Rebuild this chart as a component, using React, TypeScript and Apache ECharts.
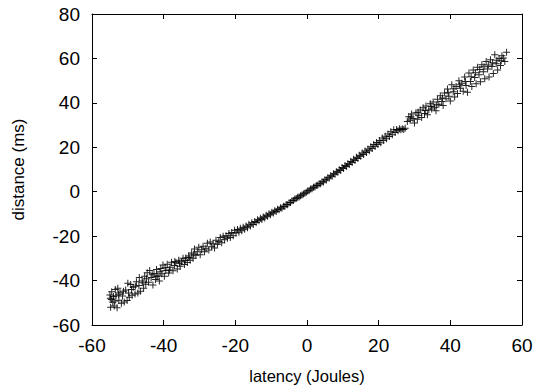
import React, { useEffect, useRef } from "react";
import * as echarts from "echarts";

const xTicks = { min: -60, max: 60, interval: 20 };
const yTicks = { min: -60, max: 80, interval: 20 };
const xTitle = "latency (Joules)";
const yTitle = "distance (ms)";

const segA: [number, number][] = [
  [-55.0, -46.5], [-54.8, -52.0], [-54.6, -48.5], [-54.5, -45.0], [-54.2, -49.8], [-54.0, -47.2],
  [-53.8, -51.5], [-53.5, -44.0], [-53.3, -46.8], [-53.0, -52.2], [-52.8, -43.5], [-52.5, -48.9],
  [-52.2, -45.5], [-51.8, -50.2], [-51.5, -47.0], [-51.0, -49.6], [-50.6, -44.2], [-50.2, -49.0],
  [-50.0, -41.2], [-49.6, -47.5], [-49.2, -41.8], [-48.8, -46.6], [-48.5, -43.0], [-48.0, -46.0],
  [-47.6, -40.5], [-47.2, -45.6], [-46.8, -38.6], [-46.5, -44.8], [-46.0, -40.2], [-45.6, -43.5],
  [-45.3, -38.0], [-45.0, -41.6],
];
const segA2: [number, number][] = [
  [-54.9, -48.0], [-53.6, -49.2], [-52.6, -46.2], [-51.2, -44.8], [-49.8, -45.6], [-49.0, -44.0],
  [-47.9, -42.6], [-46.9, -42.2], [-45.8, -41.0], [-44.8, -39.2],
];
const segB: [number, number][] = [
  [-44.6, -36.5], [-44.2, -40.8], [-43.9, -35.5], [-43.5, -38.6], [-43.0, -42.0], [-42.7, -36.8],
  [-42.3, -39.5], [-42.0, -35.0], [-41.6, -37.8], [-41.2, -40.2], [-40.8, -34.6], [-40.5, -36.9],
  [-40.2, -33.0], [-39.8, -38.0], [-39.4, -35.5], [-39.0, -32.6], [-38.6, -36.6], [-38.2, -34.0],
  [-37.8, -31.8], [-37.4, -35.6], [-37.0, -33.2], [-36.6, -32.0], [-36.2, -34.8], [-35.8, -30.9],
  [-35.4, -33.5], [-35.0, -31.5], [-34.6, -30.0], [-34.2, -32.8], [-33.8, -29.8], [-33.4, -31.9],
  [-33.0, -28.9], [-32.6, -30.8], [-32.2, -27.6], [-31.8, -29.9], [-31.4, -25.8], [-31.0, -28.6],
  [-30.6, -27.0], [-30.2, -25.0],
];
const segB2: [number, number][] = [
  [-43.2, -37.4], [-41.9, -38.2], [-41.0, -36.0], [-39.6, -34.2], [-38.4, -35.2], [-36.9, -31.4],
  [-35.6, -32.2], [-34.0, -31.0], [-32.9, -29.6], [-31.6, -28.2],
];
const segC: [number, number][] = [
  [-29.8, -28.4], [-29.4, -26.1], [-29.0, -24.6], [-28.6, -27.0], [-28.2, -25.4], [-27.8, -23.2],
  [-27.4, -26.2], [-27.0, -22.6], [-26.6, -24.8], [-26.2, -23.4], [-25.8, -25.3], [-25.4, -21.8],
  [-25.0, -23.6], [-24.6, -22.4], [-24.2, -20.6], [-23.8, -23.0], [-23.4, -20.0], [-23.0, -21.6],
  [-22.6, -19.8], [-22.2, -21.0], [-21.8, -18.8], [-21.4, -20.6], [-21.0, -18.4], [-20.6, -19.8],
  [-20.2, -17.4], [-19.8, -18.6], [-19.4, -17.0], [-19.0, -18.2], [-18.6, -16.5], [-18.2, -17.6],
  [-17.8, -16.0], [-17.4, -16.9], [-17.0, -15.4], [-16.6, -16.2], [-16.2, -14.6], [-15.8, -15.4],
  [-15.4, -14.0], [-15.0, -14.8],
];
const segD: [number, number][] = [
  [-14.6, -13.4], [-14.2, -13.9], [-13.8, -12.6], [-13.4, -13.1], [-13.0, -12.0], [-12.6, -12.5],
  [-12.2, -11.4], [-11.8, -11.8], [-11.4, -10.6], [-11.0, -11.0], [-10.6, -9.9], [-10.2, -10.4],
  [-9.8, -9.3], [-9.4, -9.6], [-9.0, -8.6], [-8.6, -8.9], [-8.2, -7.9], [-7.8, -8.1],
  [-7.4, -7.2], [-7.0, -7.4], [-6.6, -6.5], [-6.2, -6.7], [-5.8, -5.8], [-5.4, -5.9],
  [-5.0, -5.0], [-4.6, -4.8], [-4.2, -4.1], [-3.8, -3.9], [-3.4, -3.3], [-3.0, -3.1],
  [-2.6, -2.5], [-2.2, -2.4], [-1.8, -1.8], [-1.4, -1.5], [-1.0, -1.0], [-0.6, -0.7], [-0.2, -0.2],
];
const segE: [number, number][] = [
  [0.2, 0.3], [0.6, 0.5], [1.0, 1.2], [1.4, 1.3], [1.8, 2.0], [2.2, 2.1], [2.6, 2.8], [3.0, 2.9],
  [3.4, 3.6], [3.8, 3.6], [4.2, 4.5], [4.6, 4.4], [5.0, 5.4], [5.4, 5.3], [5.8, 6.3], [6.2, 6.2],
  [6.6, 7.2], [7.0, 7.0], [7.4, 8.1], [7.8, 7.9], [8.2, 9.0], [8.6, 8.8], [9.0, 9.9], [9.4, 9.6],
  [9.8, 10.9], [10.2, 10.5], [10.6, 11.8], [11.0, 11.3], [11.4, 12.6], [11.8, 12.2], [12.2, 13.6],
  [12.6, 13.1], [13.0, 14.6], [13.4, 14.0], [13.8, 15.5], [14.2, 14.9], [14.6, 16.4],
];
const segF: [number, number][] = [
  [15.0, 16.0], [15.4, 17.4], [15.8, 16.8], [16.2, 18.3], [16.6, 17.6], [17.0, 19.2], [17.4, 18.4],
  [17.8, 20.2], [18.2, 19.4], [18.6, 21.2], [19.0, 20.4], [19.4, 22.1], [19.8, 21.2], [20.2, 23.1],
  [20.6, 22.0], [21.0, 24.2], [21.4, 23.0], [21.8, 25.0], [22.2, 23.8], [22.6, 26.0], [23.0, 24.8],
  [23.4, 27.0], [23.8, 25.6], [24.2, 27.9], [24.6, 26.6], [25.0, 28.0], [25.4, 27.4], [25.8, 28.3],
  [26.2, 27.9], [26.6, 28.4], [27.0, 28.0], [27.4, 28.6],
];
const segG: [number, number][] = [
  [28.0, 31.6], [28.4, 33.8], [28.8, 32.2], [29.2, 35.0], [29.6, 33.0], [30.0, 30.9], [30.4, 35.6],
  [30.8, 32.6], [31.2, 34.4], [31.6, 36.8], [32.0, 33.4], [32.4, 37.8], [32.8, 35.2], [33.2, 38.6],
  [33.6, 34.6], [34.0, 36.8], [34.4, 39.6], [34.8, 37.2], [35.2, 40.4], [35.6, 38.0], [36.0, 36.4],
  [36.4, 41.6], [36.8, 39.4], [37.2, 43.2], [37.6, 40.6], [38.0, 38.8], [38.4, 44.4], [38.8, 41.8],
  [39.2, 46.2], [39.6, 43.0], [40.0, 40.8], [40.4, 48.2], [40.8, 45.0], [41.2, 42.6], [41.6, 47.4],
  [42.0, 44.2], [42.4, 50.0], [42.8, 46.6], [43.2, 48.8], [43.6, 45.2], [44.0, 51.6], [44.4, 47.8],
  [44.8, 44.8],
];
const segG2: [number, number][] = [
  [29.0, 33.6], [31.0, 35.8], [33.0, 36.6], [34.6, 38.4], [36.2, 39.0], [37.8, 42.2], [39.4, 44.6],
  [41.0, 46.4], [42.6, 48.2], [44.2, 49.6],
];
const segH: [number, number][] = [
  [45.2, 53.4], [45.6, 49.6], [46.0, 47.4], [46.4, 54.8], [46.8, 51.4], [47.2, 48.6], [47.6, 56.0],
  [48.0, 52.6], [48.4, 49.5], [48.8, 57.2], [49.2, 54.0], [49.6, 50.8], [50.0, 58.6], [50.4, 55.2],
  [50.8, 51.6], [51.2, 59.4], [51.6, 56.4], [52.0, 53.2], [52.4, 61.6], [52.8, 57.6], [53.2, 54.8],
  [53.6, 60.0], [54.0, 56.8], [54.4, 61.2], [54.8, 60.2], [55.2, 58.6], [55.7, 62.8],
];
const segH2: [number, number][] = [
  [45.8, 51.8], [47.0, 53.6], [48.2, 55.0], [49.4, 56.2], [50.6, 57.0], [51.8, 58.0], [53.0, 59.2],
  [54.2, 59.0],
];

const points = [
  ...segA, ...segA2, ...segB, ...segB2, ...segC, ...segD, ...segE, ...segF,
  ...segG, ...segG2, ...segH, ...segH2,
];

const FONT = "Liberation Sans";
const PLUS = "path://M0,3H7V4H0Z M3,0H4V7H3Z";

export default function App() {
  const ref = useRef<HTMLDivElement>(null);
  useEffect(() => {
    if (!ref.current) return;
    const chart = echarts.init(ref.current, undefined, { renderer: "svg" });
    const axisCommon = {
      axisLine: { show: true, onZero: false, lineStyle: { color: "#000", width: 1 } },
      axisTick: { show: true, inside: true, length: 5, lineStyle: { color: "#000", width: 1 } },
      splitLine: { show: false },
    };
    chart.setOption({
      animation: false,
      backgroundColor: "#fff",
      grid: { left: 92, right: 14, top: 14, bottom: 66, containLabel: false },
      xAxis: [
        {
          type: "value",
          ...xTicks,
          ...axisCommon,
          position: "bottom",
          name: xTitle,
          nameLocation: "middle",
          nameGap: 42,
          nameTextStyle: { fontFamily: FONT, fontSize: 16.5, color: "#000" },
          axisLabel: { fontFamily: FONT, fontSize: 19, color: "#000", margin: 11 },
        },
        {
          type: "value",
          ...xTicks,
          ...axisCommon,
          position: "top",
          axisLabel: { show: false },
        },
      ],
      yAxis: [
        {
          type: "value",
          ...yTicks,
          ...axisCommon,
          position: "left",
          name: yTitle,
          nameLocation: "middle",
          nameGap: 65,
          nameTextStyle: { fontFamily: FONT, fontSize: 17, color: "#000" },
          axisLabel: { fontFamily: FONT, fontSize: 19, color: "#000", margin: 12 },
        },
        {
          type: "value",
          ...yTicks,
          ...axisCommon,
          position: "right",
          axisLabel: { show: false },
        },
      ],
      series: [
        {
          type: "scatter",
          data: points,
          symbol: PLUS,
          symbolSize: 7,
          itemStyle: { color: "#000", opacity: 0.85 },
        },
      ],
    });
    return () => chart.dispose();
  }, []);
  return <div ref={ref} style={{ width: 536, height: 391, position: "absolute", left: 0, top: 0 }} />;
}
